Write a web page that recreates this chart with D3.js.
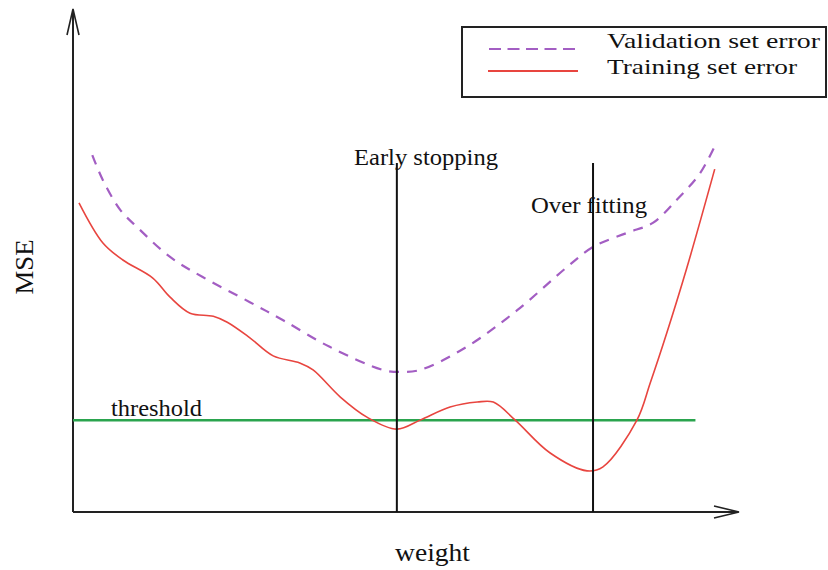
<!DOCTYPE html>
<html>
<head>
<meta charset="utf-8">
<script src="https://cdn.jsdelivr.net/npm/d3@7/dist/d3.min.js"></script>
<style>
  html, body { margin: 0; padding: 0; background: #fff; }
  svg { display: block; }
</style>
</head>
<body>
<svg id="chart" width="828" height="570"></svg>
<script>
// ---- data (weight 0-100, MSE 0-100, arbitrary units) ----
const trainWeight = [0.9, 4.5, 7.5, 12.0, 14.6, 17.6, 21.1, 23.2, 26.6, 30.1, 34.1, 36.1, 40.2, 44.2, 48.7, 52.2, 56.7, 60.8, 63.2, 66.5, 71.7, 77.3, 79.7, 84.8, 86.8, 89.3, 92.3, 96.5];
const trainMSE    = [61.6, 53.6, 50.2, 46.6, 42.8, 39.6, 39.0, 37.8, 34.7, 31.1, 29.7, 28.3, 22.9, 18.9, 16.5, 18.3, 20.9, 21.9, 21.9, 18.3, 11.8, 8.2, 9.0, 18.3, 25.7, 35.7, 48.6, 68.3];
const validWeight = [2.9, 4.5, 7.1, 9.6, 14.6, 19.5, 26.6, 31.6, 38.6, 46.6, 49.2, 52.2, 59.2, 66.8, 74.3, 78.2, 83.3, 87.2, 90.8, 94.3, 96.8];
const validMSE    = [71.1, 66.1, 60.2, 56.8, 50.8, 46.8, 41.8, 38.2, 32.9, 28.3, 27.9, 28.3, 32.9, 40.2, 48.8, 52.8, 55.6, 57.6, 62.2, 67.5, 73.7];
const seriesNames = ["Validation set error", "Training set error"];
const markerWeights = [48.7, 78.2];
const markerLabels = ["Early stopping", "Over fitting"];
const markerTop = 69.5;
const thresholdMSE = 18.3;
const thresholdEnd = 93.6;
const thresholdLabel = "threshold";
const xLabel = "weight";
const yLabel = "MSE";

// ---- layout ----
const FONT = "'Liberation Serif', 'DejaVu Serif', serif";
const svg = d3.select("#chart");
const x = d3.scaleLinear().domain([0, 100]).range([73, 738]);
const y = d3.scaleLinear().domain([0, 100]).range([512, 10]);

const axisColor = "#222";
const red = "#e8453f";
const purple = "#a35ec3";
const green = "#2aa44e";

function label(sel, txt, size, len) {
  return sel.append("text").attr("font-family", FONT).attr("font-size", size).attr("fill", "#111")
    .attr("textLength", len).attr("lengthAdjust", "spacingAndGlyphs").text(txt);
}

// axes
svg.append("line").attr("x1", x(0)).attr("x2", x(100) - 1).attr("y1", y(0)).attr("y2", y(0))
  .attr("stroke", axisColor).attr("stroke-width", 2);
svg.append("line").attr("x1", x(0)).attr("x2", x(0)).attr("y1", y(0)).attr("y2", y(100) + 1)
  .attr("stroke", axisColor).attr("stroke-width", 2);
// arrowheads
svg.append("path")
  .attr("d", `M${x(100) - 24},${y(0) - 6} L${x(100) + 1},${y(0)} L${x(100) - 24},${y(0) + 6}`)
  .attr("fill", "none").attr("stroke", axisColor).attr("stroke-width", 1.6);
svg.append("path")
  .attr("d", `M${x(0) - 6},${y(100) + 25} L${x(0)},${y(100) - 1} L${x(0) + 6},${y(100) + 25}`)
  .attr("fill", "none").attr("stroke", axisColor).attr("stroke-width", 1.6);

// threshold
svg.append("line").attr("x1", x(0)).attr("x2", x(thresholdEnd))
  .attr("y1", y(thresholdMSE)).attr("y2", y(thresholdMSE))
  .attr("stroke", green).attr("stroke-width", 2.5);
label(svg, thresholdLabel, 24, 91).attr("x", 111).attr("y", 416);

// lines
const line = d3.line().x(d => x(d[0])).y(d => y(d[1])).curve(d3.curveCatmullRom.alpha(0.5));
const trainPts = trainWeight.map((w, i) => [w, trainMSE[i]]);
const validPts = validWeight.map((w, i) => [w, validMSE[i]]);

svg.append("path").attr("d", line(validPts)).attr("fill", "none")
  .attr("stroke", purple).attr("stroke-width", 2.2).attr("stroke-dasharray", "10,8");
svg.append("path").attr("d", line(trainPts)).attr("fill", "none")
  .attr("stroke", red).attr("stroke-width", 1.6);

// markers
markerWeights.forEach(w => {
  svg.append("line").attr("x1", x(w)).attr("x2", x(w)).attr("y1", y(markerTop)).attr("y2", y(0))
    .attr("stroke", "#111").attr("stroke-width", 2);
});
label(svg, markerLabels[0], 24, 144).attr("x", 354).attr("y", 165);
label(svg, markerLabels[1], 24, 116).attr("x", 531).attr("y", 213);

// axis labels
label(svg, xLabel, 26, 75).attr("x", 395).attr("y", 561);
label(svg, yLabel, 26, 55).attr("transform", "translate(33,267) rotate(-90)").attr("text-anchor", "middle");

// legend
const lg = svg.append("g");
lg.append("rect").attr("x", 462).attr("y", 27).attr("width", 364).attr("height", 70)
  .attr("fill", "#fff").attr("stroke", "#222").attr("stroke-width", 2);
lg.append("line").attr("x1", 489).attr("x2", 575).attr("y1", 49).attr("y2", 49)
  .attr("stroke", purple).attr("stroke-width", 2.2).attr("stroke-dasharray", "12,6.5");
lg.append("line").attr("x1", 488).attr("x2", 578).attr("y1", 71).attr("y2", 71)
  .attr("stroke", red).attr("stroke-width", 2);
label(lg, seriesNames[0], 22, 213).attr("x", 607).attr("y", 48);
label(lg, seriesNames[1], 22, 190).attr("x", 607).attr("y", 74);
</script>
</body>
</html>
